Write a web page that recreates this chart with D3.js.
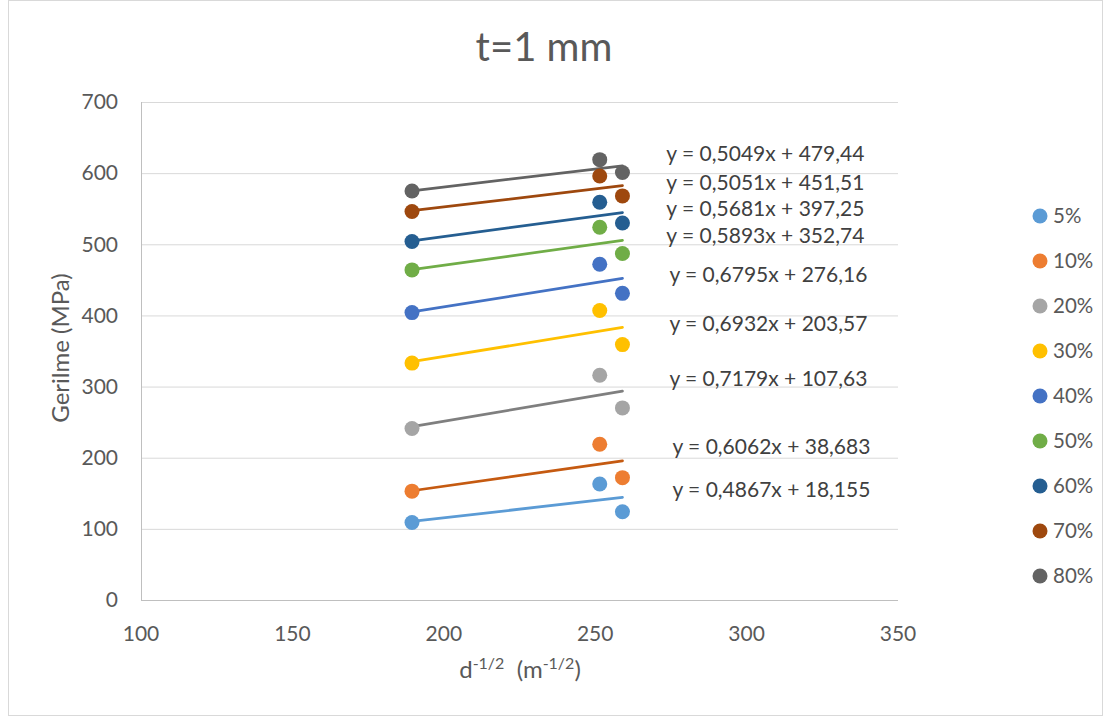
<!DOCTYPE html>
<html>
<head>
<meta charset="utf-8">
<script src="https://cdn.jsdelivr.net/npm/d3@7"></script>
<style>
  body { margin: 0; background: #fff; }
  svg text { font-family: Lato, "Noto Sans", sans-serif; fill: #595959; }
</style>
</head>
<body>
<svg id="chart" width="1105" height="717"></svg>
<script>
// data
var xValues = [189.5, 251.5, 259];
var seriesNames = ["5%", "10%", "20%", "30%", "40%", "50%", "60%", "70%", "80%"];
var s5  = [109, 163, 124];
var s10 = [153, 219, 172];
var s20 = [241, 316, 270];
var s30 = [333, 407, 359];
var s40 = [404, 472, 431];
var s50 = [464, 524, 487];
var s60 = [504, 559, 530];
var s70 = [546, 596, 568];
var s80 = [575, 619, 601];
var slopes = [0.4867, 0.6062, 0.7179, 0.6932, 0.6795, 0.5893, 0.5681, 0.5051, 0.5049];
var intercepts = [18.155, 38.683, 107.63, 203.57, 276.16, 352.74, 397.25, 451.51, 479.44];
var equations = ["y = 0,4867x + 18,155", "y = 0,6062x + 38,683", "y = 0,7179x + 107,63",
                 "y = 0,6932x + 203,57", "y = 0,6795x + 276,16", "y = 0,5893x + 352,74",
                 "y = 0,5681x + 397,25", "y = 0,5051x + 451,51", "y = 0,5049x + 479,44"];
var xTicks = [100, 150, 200, 250, 300, 350];
var yTicks = [0, 100, 200, 300, 400, 500, 600, 700];

var allSeries = [s5, s10, s20, s30, s40, s50, s60, s70, s80];

var pointColors = ["#5B9BD5", "#ED7D31", "#A5A5A5", "#FFC000", "#4472C4", "#70AD47", "#255E91", "#9E480E", "#636363"];
var lineColors  = ["#5B9BD5", "#C55A11", "#7F7F7F", "#FFC000", "#4472C4", "#70AD47", "#255E91", "#9E480E", "#636363"];
// where the equation labels sit (data units), moved by hand in the original
var labelPos = [[275.5, 155], [275.5, 216], [274.5, 311], [274.5, 389], [274.5, 457],
                [273.5, 512], [273.5, 550], [273.5, 586], [273.5, 628]];

var svg = d3.select("#chart");

svg.append("rect")
  .attr("x", 8.5).attr("y", 0.5).attr("width", 1094).attr("height", 715)
  .attr("fill", "#fff").attr("stroke", "#d9d9d9");

var x = d3.scaleLinear().domain([100, 350]).range([141, 898]);
var y = d3.scaleLinear().domain([0, 700]).range([600, 102]);

// gridlines
svg.append("g").selectAll("line").data(yTicks.slice(1)).enter().append("line")
  .attr("x1", x(100)).attr("x2", x(350))
  .attr("y1", function(d) { return y(d) + 0.5; })
  .attr("y2", function(d) { return y(d) + 0.5; })
  .attr("stroke", "#d9d9d9").attr("stroke-width", 1);

// axis lines
svg.append("line")
  .attr("x1", x(100)).attr("x2", x(350)).attr("y1", y(0) + 0.5).attr("y2", y(0) + 0.5)
  .attr("stroke", "#bfbfbf");
svg.append("line")
  .attr("x1", x(100) + 0.5).attr("x2", x(100) + 0.5).attr("y1", y(0)).attr("y2", y(700))
  .attr("stroke", "#bfbfbf");

// tick labels
svg.append("g").selectAll("text").data(yTicks).enter().append("text")
  .attr("x", 118).attr("y", function(d) { return y(d); })
  .attr("dy", "0.35em").attr("text-anchor", "end")
  .style("font-size", "21px")
  .text(function(d) { return d; });

svg.append("g").selectAll("text").data(xTicks).enter().append("text")
  .attr("x", function(d) { return x(d); }).attr("y", 641)
  .attr("text-anchor", "middle")
  .style("font-size", "21px")
  .text(function(d) { return d; });

// title
svg.append("text")
  .attr("x", 544).attr("y", 61).attr("text-anchor", "middle")
  .style("font-size", "40px")
  .text("t=1 mm");

// axis titles
svg.append("text")
  .attr("transform", "translate(69,348) rotate(-90)")
  .attr("text-anchor", "middle")
  .style("font-size", "24px")
  .text("Gerilme (MPa)");

var xt = svg.append("text")
  .attr("x", 520).attr("y", 678).attr("text-anchor", "middle")
  .style("font-size", "24px");
xt.append("tspan").text("d");
xt.append("tspan").attr("dy", -9).style("font-size", "16px").text("-1/2");
xt.append("tspan").attr("dy", 9).text("\u00a0 (m");
xt.append("tspan").attr("dy", -9).style("font-size", "16px").text("-1/2");
xt.append("tspan").attr("dy", 9).text(")");

// trendlines
var xMin = d3.min(xValues), xMax = d3.max(xValues);
svg.append("g").selectAll("line").data(seriesNames).enter().append("line")
  .attr("x1", x(xMin))
  .attr("x2", x(xMax))
  .attr("y1", function(d, i) { return y(slopes[i] * xMin + intercepts[i]); })
  .attr("y2", function(d, i) { return y(slopes[i] * xMax + intercepts[i]); })
  .attr("stroke", function(d, i) { return lineColors[i]; })
  .attr("stroke-width", 2.75)
  .attr("stroke-linecap", "round");

// points
allSeries.forEach(function(vals, i) {
  svg.append("g").selectAll("circle").data(vals).enter().append("circle")
    .attr("cx", function(d, j) { return x(xValues[j]); })
    .attr("cy", function(d) { return y(d); })
    .attr("r", 7.5)
    .attr("fill", pointColors[i]);
});

// equation labels
svg.append("g").selectAll("text").data(equations).enter().append("text")
  .attr("x", function(d, i) { return x(labelPos[i][0]); })
  .attr("y", function(d, i) { return y(labelPos[i][1]); })
  .attr("dy", "0.35em")
  .style("font-size", "21px")
  .style("fill", "#404040")
  .text(function(d) { return d; });

// legend
var legend = svg.append("g").selectAll("g").data(seriesNames).enter().append("g")
  .attr("transform", function(d, i) { return "translate(1040," + (216 + i * 45) + ")"; });
legend.append("circle").attr("r", 7.5)
  .attr("fill", function(d, i) { return pointColors[i]; });
legend.append("text").attr("x", 13).attr("dy", "0.35em")
  .style("font-size", "20.5px")
  .text(function(d) { return d; });
</script>
</body>
</html>
